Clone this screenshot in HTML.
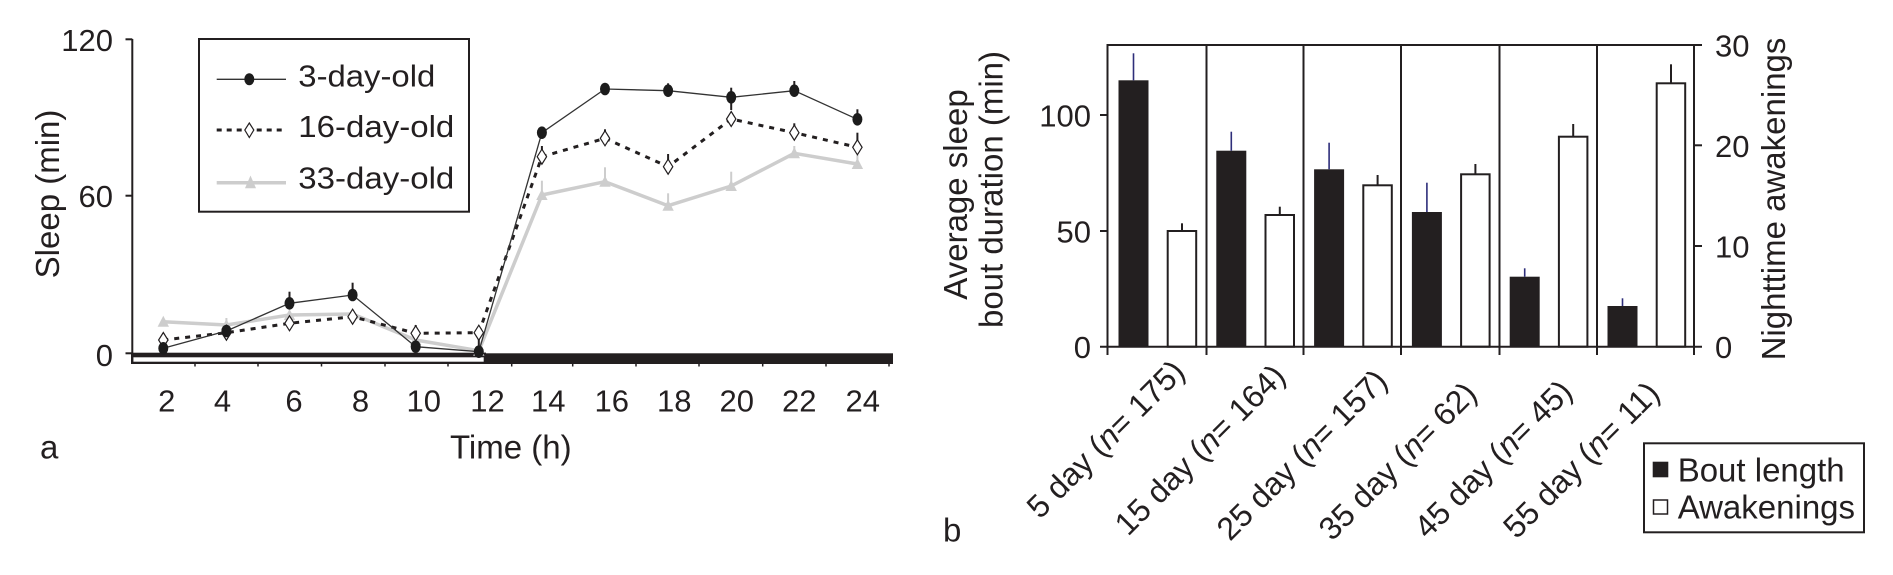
<!DOCTYPE html>
<html><head><meta charset="utf-8"><style>
html,body{margin:0;padding:0;background:#fff;overflow:hidden}
svg{display:block}
text{font-family:"Liberation Sans",Arial,sans-serif;fill:#231f20}
</style></head><body>
<svg width="1893" height="575" viewBox="0 0 1893 575" xmlns="http://www.w3.org/2000/svg">
<rect width="1893" height="575" fill="#fff"/>

<!-- ================= LEFT CHART (a) ================= -->
<!-- light/dark bar -->
<rect x="131" y="352.7" width="355" height="11.3" fill="#fff"/>
<rect x="131" y="352.7" width="355" height="4.6" fill="#231f20"/>
<rect x="131" y="361.7" width="355" height="2.3" fill="#231f20"/>
<rect x="131" y="352.7" width="2.3" height="11.3" fill="#231f20"/>
<rect x="483.7" y="352.7" width="2.3" height="11.3" fill="#231f20"/>
<rect x="486" y="353.3" width="407" height="10.7" fill="#231f20"/>
<!-- small ticks under bar -->
<g stroke="#231f20" stroke-width="1.5">
<line x1="195" y1="364" x2="195" y2="366.5"/><line x1="258" y1="364" x2="258" y2="366.5"/>
<line x1="321.5" y1="364" x2="321.5" y2="366.5"/><line x1="385" y1="364" x2="385" y2="366.5"/>
<line x1="448" y1="364" x2="448" y2="366.5"/><line x1="511.7" y1="364" x2="511.7" y2="366.5"/>
<line x1="572.7" y1="364" x2="572.7" y2="366.5"/><line x1="636" y1="364" x2="636" y2="366.5"/>
<line x1="699" y1="364" x2="699" y2="366.5"/><line x1="762.7" y1="364" x2="762.7" y2="366.5"/>
<line x1="826" y1="364" x2="826" y2="366.5"/><line x1="889" y1="364" x2="889" y2="366.5"/>
</g>
<!-- y axis -->
<line x1="132.3" y1="39" x2="132.3" y2="364" stroke="#231f20" stroke-width="2"/>
<g stroke="#231f20" stroke-width="2">
<line x1="125.5" y1="39.3" x2="132.3" y2="39.3"/>
<line x1="125.5" y1="195.7" x2="132.3" y2="195.7"/>
<line x1="125.5" y1="353.3" x2="132.3" y2="353.3"/>
</g>
<g font-size="31" text-anchor="end">
<text x="113" y="51">120</text>
<text x="113" y="207">60</text>
<text x="113" y="366">0</text>
</g>
<text transform="translate(59,194) rotate(-90)" font-size="33" text-anchor="middle">Sleep (min)</text>
<!-- x labels -->
<g font-size="31" text-anchor="middle">
<text x="166.7" y="411.7">2</text><text x="222.5" y="411.7">4</text>
<text x="294" y="411.7">6</text><text x="360.5" y="411.7">8</text>
<text x="423.7" y="411.7">10</text><text x="487.5" y="411.7">12</text>
<text x="548.3" y="411.7">14</text><text x="611.7" y="411.7">16</text>
<text x="674.3" y="411.7">18</text><text x="736.7" y="411.7">20</text>
<text x="799.3" y="411.7">22</text><text x="862.7" y="411.7">24</text>
</g>
<text x="450" y="458.3" font-size="33">Time (h)</text>
<text x="40" y="458.3" font-size="33">a</text>

<!-- series: 33-day (gray) -->
<g stroke="#cdcdcd" stroke-width="2">
<line x1="226.4" y1="325" x2="226.4" y2="318"/>
<line x1="541.9" y1="195" x2="541.9" y2="180.7"/>
<line x1="605" y1="181.7" x2="605" y2="167.3"/>
<line x1="668.1" y1="205.7" x2="668.1" y2="193.3"/>
<line x1="731.2" y1="186" x2="731.2" y2="171.7"/>
<line x1="794.3" y1="153.3" x2="794.3" y2="146"/>
<line x1="857.4" y1="164" x2="857.4" y2="155"/>
</g>
<polyline fill="none" stroke="#cdcdcd" stroke-width="3.5" stroke-linejoin="round"
 points="163.3,321.7 226.4,325 289.5,315 352.6,314 415.7,340 478.8,350.7 541.9,195 605,181.7 668.1,205.7 731.2,186 794.3,153.3 857.4,164"/>
<g fill="#cdcdcd">
<path d="M163.3,315.7 L169,326.7 L157.6,326.7Z"/>
<path d="M226.4,319 L232.1,330 L220.7,330Z"/>
<path d="M289.5,309 L295.2,320 L283.8,320Z"/>
<path d="M352.6,308 L358.3,319 L346.9,319Z"/>
<path d="M415.7,334 L421.4,345 L410,345Z"/>
<path d="M478.8,344.7 L484.5,355.7 L473.1,355.7Z"/>
<path d="M541.9,189 L547.6,200 L536.2,200Z"/>
<path d="M605,175.7 L610.7,186.7 L599.3,186.7Z"/>
<path d="M668.1,199.7 L673.8,210.7 L662.4,210.7Z"/>
<path d="M731.2,180 L736.9,191 L725.5,191Z"/>
<path d="M794.3,147.3 L800,158.3 L788.6,158.3Z"/>
<path d="M857.4,158 L863.1,169 L851.7,169Z"/>
</g>

<!-- series: 16-day (dotted, diamonds) -->
<g stroke="#231f20" stroke-width="2">
<line x1="163.3" y1="340" x2="163.3" y2="333"/>
<line x1="415.7" y1="333.3" x2="415.7" y2="325"/>
<line x1="478.8" y1="332.7" x2="478.8" y2="348"/>
<line x1="541.9" y1="156.7" x2="541.9" y2="146"/>
<line x1="605" y1="138.3" x2="605" y2="129.3"/>
<line x1="668.1" y1="166.7" x2="668.1" y2="154"/>
<line x1="794.3" y1="132.7" x2="794.3" y2="123.3"/>
<line x1="857.4" y1="147.3" x2="857.4" y2="132.7"/>
</g>
<polyline fill="none" stroke="#231f20" stroke-width="3" stroke-dasharray="5 6"
 points="163.3,340 226.4,332.7 289.5,323.3 352.6,316.7 415.7,333.3 478.8,332.7 541.9,156.7 605,138.3 668.1,166.7 731.2,119 794.3,132.7 857.4,147.3"/>
<g fill="#fff" stroke="#231f20" stroke-width="1.2">
<path d="M163.3,332.5 L168,340 L163.3,347.5 L158.6,340Z"/>
<path d="M226.4,325.2 L231.1,332.7 L226.4,340.2 L221.7,332.7Z"/>
<path d="M289.5,315.8 L294.2,323.3 L289.5,330.8 L284.8,323.3Z"/>
<path d="M352.6,309.2 L357.3,316.7 L352.6,324.2 L347.9,316.7Z"/>
<path d="M415.7,325.8 L420.4,333.3 L415.7,340.8 L411,333.3Z"/>
<path d="M478.8,325.2 L483.5,332.7 L478.8,340.2 L474.1,332.7Z"/>
<path d="M541.9,149.2 L546.6,156.7 L541.9,164.2 L537.2,156.7Z"/>
<path d="M605,130.8 L609.7,138.3 L605,145.8 L600.3,138.3Z"/>
<path d="M668.1,159.2 L672.8,166.7 L668.1,174.2 L663.4,166.7Z"/>
<path d="M731.2,111.5 L735.9,119 L731.2,126.5 L726.5,119Z"/>
<path d="M794.3,125.2 L799,132.7 L794.3,140.2 L789.6,132.7Z"/>
<path d="M857.4,139.8 L862.1,147.3 L857.4,154.8 L852.7,147.3Z"/>
</g>

<!-- series: 3-day (thin line, black circles) -->
<g stroke="#231f20" stroke-width="2">
<line x1="289.5" y1="303.3" x2="289.5" y2="291.7"/>
<line x1="352.6" y1="295" x2="352.6" y2="282.7"/>
<line x1="605" y1="89" x2="605" y2="84"/>
<line x1="668.1" y1="90.7" x2="668.1" y2="83.3"/>
<line x1="731.2" y1="87.7" x2="731.2" y2="110"/>
<line x1="794.3" y1="90.7" x2="794.3" y2="81"/>
<line x1="857.4" y1="119.3" x2="857.4" y2="109.3"/>
</g>
<polyline fill="none" stroke="#333" stroke-width="1.3"
 points="163.3,348.3 226.4,331 289.5,303.3 352.6,295 415.7,346.7 478.8,351.7 541.9,132.7 605,89 668.1,90.7 731.2,97.3 794.3,90.7 857.4,119.3"/>
<g fill="#1c1c1c">
<ellipse cx="163.3" cy="348.3" rx="5" ry="6.3"/>
<ellipse cx="226.4" cy="331" rx="5" ry="6.3"/>
<ellipse cx="289.5" cy="303.3" rx="5" ry="6.3"/>
<ellipse cx="352.6" cy="295" rx="5" ry="6.3"/>
<ellipse cx="415.7" cy="346.7" rx="5" ry="6.3"/>
<ellipse cx="478.8" cy="351.7" rx="5" ry="6.3"/>
<ellipse cx="541.9" cy="132.7" rx="5" ry="6.3"/>
<ellipse cx="605" cy="89" rx="5" ry="6.3"/>
<ellipse cx="668.1" cy="90.7" rx="5" ry="6.3"/>
<ellipse cx="731.2" cy="97.3" rx="5" ry="6.3"/>
<ellipse cx="794.3" cy="90.7" rx="5" ry="6.3"/>
<ellipse cx="857.4" cy="119.3" rx="5" ry="6.3"/>
</g>

<!-- legend (a) -->
<rect x="199" y="39" width="270" height="172.7" fill="#fff" stroke="#231f20" stroke-width="2"/>
<line x1="216.7" y1="79.3" x2="286" y2="79.3" stroke="#333" stroke-width="1.3"/>
<ellipse cx="249.3" cy="79.3" rx="5" ry="6" fill="#1c1c1c"/>
<line x1="216.7" y1="130" x2="286" y2="130" stroke="#231f20" stroke-width="3" stroke-dasharray="5 5"/>
<path d="M249.3,123 L253.8,130 L249.3,137.5 L244.8,130Z" fill="#fff" stroke="#231f20" stroke-width="1.2"/>
<line x1="216.7" y1="182.7" x2="286" y2="182.7" stroke="#cdcdcd" stroke-width="3.5"/>
<path d="M250.5,175.5 L256,188.3 L245,188.3Z" fill="#cdcdcd"/>
<g font-size="31">
<text x="298.3" y="86.7" textLength="137" lengthAdjust="spacingAndGlyphs">3-day-old</text>
<text x="298.3" y="137" textLength="156" lengthAdjust="spacingAndGlyphs">16-day-old</text>
<text x="298.3" y="188.5" textLength="156" lengthAdjust="spacingAndGlyphs">33-day-old</text>
</g>

<!-- ================= RIGHT CHART (b) ================= -->
<!-- bars: black (bout length) -->
<g fill="#231f20">
<rect x="1118.5" y="80.3" width="30" height="266.4"/>
<rect x="1216.3" y="150.7" width="30" height="196"/>
<rect x="1314.1" y="169.3" width="30" height="177.4"/>
<rect x="1411.9" y="212" width="30" height="134.7"/>
<rect x="1509.7" y="276.7" width="30" height="70"/>
<rect x="1607.5" y="306" width="30" height="40.7"/>
</g>
<g stroke="#2e2e7a" stroke-width="1.6">
<line x1="1133.5" y1="80.3" x2="1133.5" y2="53.3"/>
<line x1="1231.3" y1="150.7" x2="1231.3" y2="131.7"/>
<line x1="1329.1" y1="169.3" x2="1329.1" y2="142.7"/>
<line x1="1426.9" y1="212" x2="1426.9" y2="182.7"/>
<line x1="1524.7" y1="276.7" x2="1524.7" y2="268.3"/>
<line x1="1622.5" y1="306" x2="1622.5" y2="298.3"/>
</g>
<!-- bars: white (awakenings) -->
<g fill="#fff" stroke="#231f20" stroke-width="2">
<rect x="1167.7" y="231" width="28.5" height="115.7"/>
<rect x="1265.5" y="215" width="28.5" height="131.7"/>
<rect x="1363.3" y="185.3" width="28.5" height="161.4"/>
<rect x="1461.1" y="174.3" width="28.5" height="172.4"/>
<rect x="1558.9" y="136.7" width="28.5" height="210"/>
<rect x="1656.7" y="83.3" width="28.5" height="263.4"/>
</g>
<g stroke="#231f20" stroke-width="2">
<line x1="1182" y1="231" x2="1182" y2="223.3"/>
<line x1="1279.8" y1="215" x2="1279.8" y2="206.7"/>
<line x1="1377.6" y1="185.3" x2="1377.6" y2="175"/>
<line x1="1475.4" y1="174.3" x2="1475.4" y2="164"/>
<line x1="1573.2" y1="136.7" x2="1573.2" y2="124"/>
<line x1="1671" y1="83.3" x2="1671" y2="64.3"/>
</g>
<!-- frame & dividers -->
<g stroke="#231f20" stroke-width="2" fill="none">
<line x1="1107.5" y1="45" x2="1694" y2="45"/>
<line x1="1107.5" y1="44" x2="1107.5" y2="355"/>
<line x1="1206.5" y1="45" x2="1206.5" y2="355"/>
<line x1="1303.5" y1="45" x2="1303.5" y2="355"/>
<line x1="1401" y1="45" x2="1401" y2="355"/>
<line x1="1499.5" y1="45" x2="1499.5" y2="355"/>
<line x1="1597" y1="45" x2="1597" y2="355"/>
<line x1="1694" y1="44" x2="1694" y2="355"/>
<line x1="1100" y1="346.7" x2="1702" y2="346.7"/>
<line x1="1100" y1="115" x2="1107.5" y2="115"/>
<line x1="1100" y1="231" x2="1107.5" y2="231"/>
<line x1="1694" y1="45" x2="1702" y2="45"/>
<line x1="1694" y1="145.3" x2="1702" y2="145.3"/>
<line x1="1694" y1="246" x2="1702" y2="246"/>
</g>
<g font-size="31" text-anchor="end">
<text x="1091" y="126.5">100</text>
<text x="1091" y="242.5">50</text>
<text x="1091" y="358">0</text>
</g>
<g font-size="31">
<text x="1715" y="56.7">30</text>
<text x="1715" y="157">20</text>
<text x="1715" y="257.5">10</text>
<text x="1715" y="358">0</text>
</g>
<text transform="translate(967,194.5) rotate(-90)" font-size="33" text-anchor="middle">Average sleep</text>
<text transform="translate(1002.5,189.5) rotate(-90)" font-size="33" text-anchor="middle">bout duration (min)</text>
<text transform="translate(1785,199) rotate(-90)" font-size="33" text-anchor="middle">Nighttime awakenings</text>
<!-- rotated category labels -->
<g font-size="32">
<text transform="translate(1040,520) rotate(-45)">5 day (<tspan font-style="italic">n</tspan>= 175)</text>
<text transform="translate(1128,537) rotate(-45)">15 day (<tspan font-style="italic">n</tspan>= 164)</text>
<text transform="translate(1230,542) rotate(-45)">25 day (<tspan font-style="italic">n</tspan>= 157)</text>
<text transform="translate(1332,542) rotate(-45)">35 day (<tspan font-style="italic">n</tspan>= 62)</text>
<text transform="translate(1427.5,540) rotate(-45)">45 day (<tspan font-style="italic">n</tspan>= 45)</text>
<text transform="translate(1516.5,540) rotate(-45)">55 day (<tspan font-style="italic">n</tspan>= 11)</text>
</g>
<text x="943" y="541.7" font-size="33">b</text>
<!-- legend (b) -->
<rect x="1644" y="443.3" width="220" height="89" fill="#fff" stroke="#231f20" stroke-width="2"/>
<rect x="1652.7" y="461.7" width="15.6" height="15.6" fill="#231f20"/>
<rect x="1653.5" y="500" width="14" height="14" fill="#fff" stroke="#231f20" stroke-width="1.5"/>
<text x="1677.7" y="481.7" font-size="33">Bout length</text>
<text x="1677.7" y="518.3" font-size="33">Awakenings</text>
</svg>
</body></html>
